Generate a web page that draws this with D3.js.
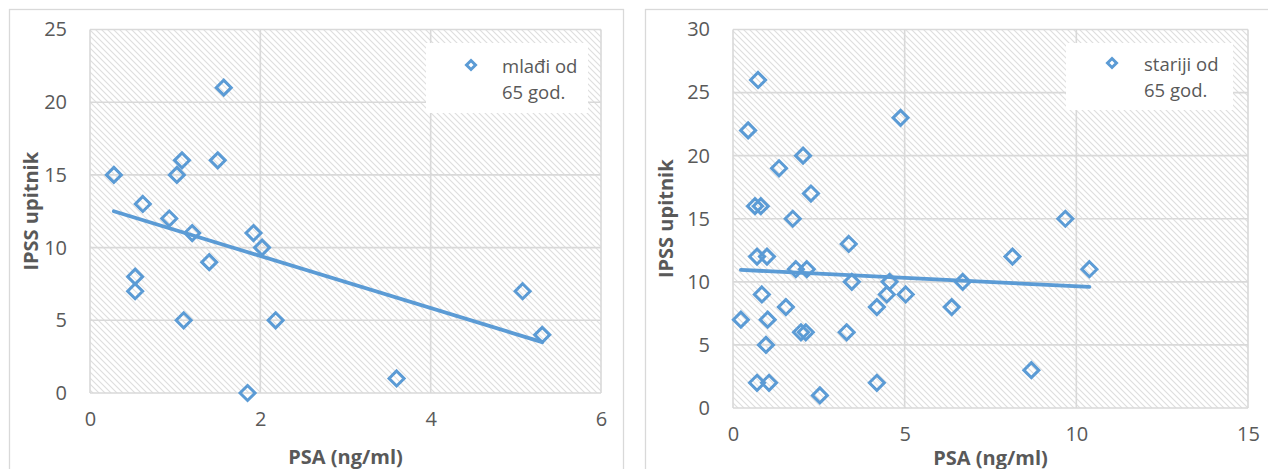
<!DOCTYPE html>
<html>
<head>
<meta charset="utf-8">
<script src="https://cdn.jsdelivr.net/npm/d3@7"></script>
<style>
  html, body { margin: 0; padding: 0; background: #ffffff; }
  svg { display: block; }
  text { font-family: "Open Sans", "Liberation Sans", sans-serif; }
</style>
</head>
<body>
<svg id="chart" width="1268" height="469"></svg>
<script>
// ---------- DATA ----------
const youngPSA  = [0.28, 0.62, 1.02, 1.08, 0.93, 1.50, 1.57, 1.20, 1.92, 2.02, 0.53, 0.53, 1.40, 1.10, 2.18, 1.85, 3.60, 5.08, 5.31];
const youngIPSS = [15, 13, 15, 16, 12, 16, 21, 11, 11, 10, 8, 7, 9, 5, 5, 0, 1, 7, 4];
// linear trendline end values (IPSS at min and max PSA)
const youngTrend = [12.5, 3.5];

const oldPSA  = [0.73, 0.44, 4.88, 2.04, 1.34, 2.27, 0.64, 0.81, 1.74, 9.68, 3.37, 0.70, 0.99, 8.14, 1.83, 2.15, 10.38, 3.46, 4.56, 6.69, 0.84, 4.48, 5.03, 1.54, 4.19, 6.37, 0.23, 1.01, 1.98, 2.12, 3.31, 0.96, 0.70, 1.05, 4.19, 2.53, 8.69];
const oldIPSS = [26, 22, 23, 20, 19, 17, 16, 16, 15, 15, 13, 12, 12, 12, 11, 11, 11, 10, 10, 10, 9, 9, 9, 8, 8, 8, 7, 7, 6, 6, 6, 5, 2, 2, 2, 1, 3];
const oldTrend = [10.95, 9.6];

const youngXTicks = [0, 2, 4, 6];
const youngYTicks = [0, 5, 10, 15, 20, 25];
const oldXTicks = [0, 5, 10, 15];
const oldYTicks = [0, 5, 10, 15, 20, 25, 30];

const youngLegend = ["mlađi od", "65 god."];
const oldLegend = ["stariji od", "65 god."];
const xTitle = "PSA (ng/ml)";
const yTitle = "IPSS upitnik";

// ---------- STYLE ----------
const BLUE = "#5b9bd5";
const GRID = "#d9d9d9";
const TEXT = "#595959";

const svg = d3.select("#chart");
const defs = svg.append("defs");
const pat = defs.append("pattern")
  .attr("id", "hatch")
  .attr("patternUnits", "userSpaceOnUse")
  .attr("width", 6).attr("height", 6);
pat.append("rect").attr("width", 6).attr("height", 6).attr("fill", "#ffffff");
pat.append("path")
  .attr("d", "M-1,-1 L7,7 M-4,2 L4,10 M2,-4 L10,4")
  .attr("stroke", "#dedede").attr("stroke-width", 1.1);

function drawChart(cfg) {
  const g = svg.append("g");
  g.append("rect")
    .attr("x", cfg.box[0] + 0.5).attr("y", cfg.box[1] + 0.5)
    .attr("width", cfg.box[2]).attr("height", cfg.box[3])
    .attr("fill", "#ffffff").attr("stroke", GRID).attr("stroke-width", 1.3);

  const x = d3.scaleLinear().domain(cfg.xDomain).range([cfg.plot.left, cfg.plot.right]);
  const y = d3.scaleLinear().domain(cfg.yDomain).range([cfg.plot.bottom, cfg.plot.top]);

  g.append("rect")
    .attr("x", cfg.plot.left).attr("y", cfg.plot.top)
    .attr("width", cfg.plot.right - cfg.plot.left)
    .attr("height", cfg.plot.bottom - cfg.plot.top)
    .attr("fill", "url(#hatch)");

  const grid = g.append("g");
  grid.selectAll("line.h").data(cfg.yTicks).join("line")
    .attr("x1", cfg.plot.left).attr("x2", cfg.plot.right)
    .attr("y1", d => y(d)).attr("y2", d => y(d))
    .attr("stroke", GRID).attr("stroke-width", 1.6);
  grid.selectAll("line.v").data(cfg.xTicks).join("line")
    .attr("y1", cfg.plot.top).attr("y2", cfg.plot.bottom)
    .attr("x1", d => x(d)).attr("x2", d => x(d))
    .attr("stroke", GRID).attr("stroke-width", 1.6);

  const yAxis = g.append("g")
    .attr("transform", `translate(${cfg.plot.left},0)`)
    .call(d3.axisLeft(y).tickValues(cfg.yTicks).tickSize(0).tickPadding(23).tickFormat(d3.format("d")));
  yAxis.select(".domain").remove();
  yAxis.selectAll("text").attr("fill", TEXT).style("font-size", "20px")
    .style("font-family", '"Open Sans", sans-serif');

  const xAxis = g.append("g")
    .attr("transform", `translate(0,${cfg.plot.bottom})`)
    .call(d3.axisBottom(x).tickValues(cfg.xTicks).tickSize(0).tickPadding(cfg.xPad).tickFormat(d3.format("d")));
  xAxis.select(".domain").remove();
  xAxis.selectAll("text").attr("fill", TEXT).style("font-size", "20px")
    .style("font-family", '"Open Sans", sans-serif');

  g.append("text")
    .attr("x", (cfg.plot.left + cfg.plot.right) / 2).attr("y", cfg.xTitleY)
    .attr("text-anchor", "middle").attr("dominant-baseline", "central")
    .attr("fill", TEXT).style("font-size", "20px").style("font-weight", "bold")
    .text(xTitle);
  g.append("text")
    .attr("transform", `translate(${cfg.yTitleX},${(cfg.plot.top + cfg.plot.bottom) / 2}) rotate(-90)`)
    .attr("text-anchor", "middle").attr("dominant-baseline", "central")
    .attr("fill", TEXT).style("font-size", "20px").style("font-weight", "bold")
    .text(yTitle);

  const x0 = d3.min(cfg.xs), x1 = d3.max(cfg.xs);
  g.append("line")
    .attr("x1", x(x0)).attr("y1", y(cfg.trend[0]))
    .attr("x2", x(x1)).attr("y2", y(cfg.trend[1]))
    .attr("stroke", BLUE).attr("stroke-width", 3.8).attr("stroke-linecap", "round");

  const diamond = "M0,-7.5 L7.5,0 L0,7.5 L-7.5,0 Z";
  g.append("g").selectAll("path").data(cfg.xs.map((d, i) => [d, cfg.ys[i]])).join("path")
    .attr("d", diamond)
    .attr("transform", d => `translate(${x(d[0])},${y(d[1])})`)
    .attr("fill", "none").attr("stroke", BLUE).attr("stroke-width", 3)
    .attr("stroke-linejoin", "miter");

  const L = cfg.legend;
  g.append("rect").attr("x", L.x).attr("y", L.y).attr("width", L.w).attr("height", L.h)
    .attr("fill", "#ffffff");
  g.append("path").attr("d", "M0,-4.5 L4.5,0 L0,4.5 L-4.5,0 Z")
    .attr("transform", `translate(${L.mx},${L.my})`)
    .attr("fill", "none").attr("stroke", BLUE).attr("stroke-width", 3);
  g.append("g").selectAll("text").data(cfg.legendText).join("text")
    .attr("x", L.tx).attr("y", (d, i) => L.my + i * 26)
    .attr("dominant-baseline", "central")
    .attr("fill", TEXT).style("font-size", "18.5px")
    .text(d => d);
}

drawChart({
  box: [9, 9, 614, 480],
  plot: { left: 90, right: 601, top: 29.5, bottom: 393 },
  xDomain: [0, 6], yDomain: [0, 25],
  xTicks: youngXTicks, yTicks: youngYTicks,
  xPad: 19, xTitleY: 456, yTitleX: 30,
  xs: youngPSA, ys: youngIPSS, trend: youngTrend,
  legend: { x: 426, y: 43, w: 162, h: 70, mx: 471, my: 65, tx: 502 },
  legendText: youngLegend
});

drawChart({
  box: [645, 9, 640, 480],
  plot: { left: 733, right: 1248, top: 29.5, bottom: 408 },
  xDomain: [0, 15], yDomain: [0, 30],
  xTicks: oldXTicks, yTicks: oldYTicks,
  xPad: 19, xTitleY: 457, yTitleX: 665,
  xs: oldPSA, ys: oldIPSS, trend: oldTrend,
  legend: { x: 1066, y: 43, w: 167, h: 67, mx: 1112, my: 63, tx: 1144 },
  legendText: oldLegend
});
</script>
</body>
</html>
